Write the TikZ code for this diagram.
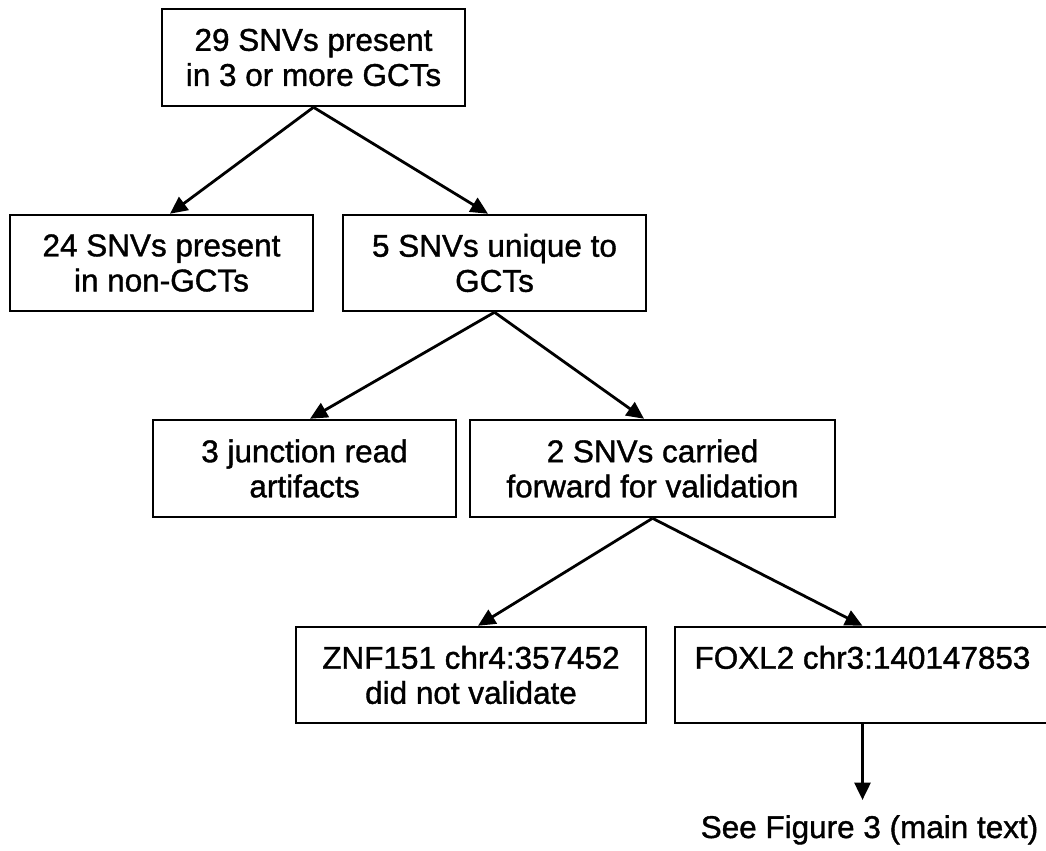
\documentclass[tikz,border=0pt]{standalone}
\usepackage{fontspec}
\setmainfont{Liberation Sans}
\newfontfamily\heavyfont{Liberation Sans}[FakeBold=1.2]
\usetikzlibrary{arrows.meta}
\newdimen\px \px=0.75pt
\begin{document}
\begin{tikzpicture}[x=0.75pt,y=-0.75pt,
  box/.style={draw, line width=1.9pt, align=center, inner sep=0pt,
    font=\heavyfont\fontsize{23.6}{26.3}\selectfont},
  arr/.style={-{Triangle[length=13pt,width=12pt]}, line width=2.1pt},
  plain/.style={inner sep=0pt, font=\heavyfont\fontsize{23.6}{26.3}\selectfont}]
\useasboundingbox (0,0) rectangle (1046,850);
\clip (0,0) rectangle (1046,850);
\node[box, minimum width=303\px, minimum height=97\px] (b1) at (313.5,57.5) {29 SNVs present\\in 3 or more GCTs};
\node[box, minimum width=303\px, minimum height=96\px] (b2) at (161.5,263) {24 SNVs present\\in non-GCTs};
\node[box, minimum width=303\px, minimum height=96\px] (b3) at (494.5,263) {5 SNVs unique to\\GCTs};
\node[box, minimum width=303\px, minimum height=97\px] (b4) at (304.5,468.5) {3 junction read\\artifacts};
\node[box, minimum width=365\px, minimum height=97\px] (b5) at (652.5,468.5) {2 SNVs carried\\forward for validation};
\node[box, minimum width=350\px, minimum height=96\px] (b6) at (471,675) {ZNF151 chr4:357452\\did not validate};
\node[box, minimum width=375\px, minimum height=96\px] (b7) at (862.5,675) {FOXL2 chr3:140147853\\\vphantom{did not validate}};
\node[plain, anchor=base] (t) at (869.5,838) {See Figure 3 (main text)};
\coordinate (tend) at (b7.south |- t.north);
\draw[arr] (b1.south) -- ([xshift=8.5\px]b2.north);
\draw[arr] (b1.south) -- ([xshift=-6.5\px]b3.north);
\draw[arr] (b3.south) -- ([xshift=5.5\px]b4.north);
\draw[arr] (b3.south) -- ([xshift=-8.5\px]b5.north);
\draw[arr] (b5.south) -- ([xshift=7\px]b6.north);
\draw[arr] (b5.south) -- (b7.north);
\draw[arr] (b7.south) -- ([yshift=15\px]tend);
\end{tikzpicture}
\end{document}
